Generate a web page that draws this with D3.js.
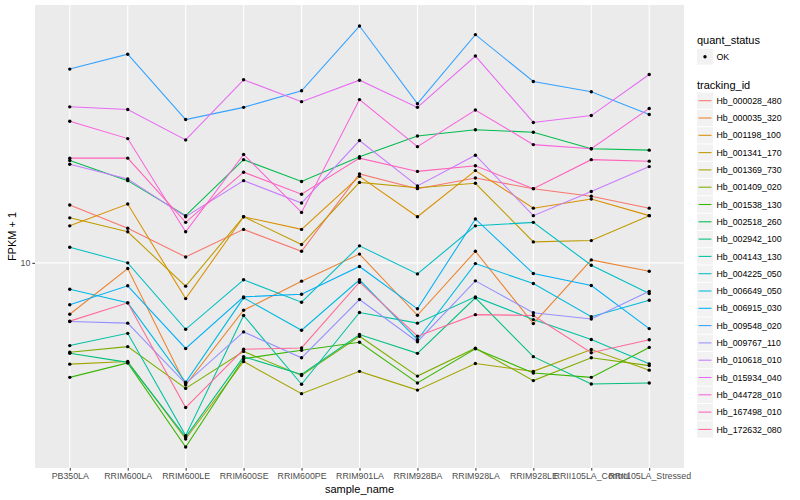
<!DOCTYPE html>
<html>
<head>
<meta charset="utf-8">
<script src="https://cdn.jsdelivr.net/npm/d3@7/dist/d3.min.js"></script>
<style>
  body { margin: 0; background: #fff; }
  text { font-family: "Liberation Sans", Arial, Helvetica, sans-serif; }
</style>
</head>
<body>
<div id="chart"></div>
<script>
// FPKM + 1 per sample, one line per tracking_id (log scale)

const samples = ["PB350LA", "RRIM600LA", "RRIM600LE", "RRIM600SE", "RRIM600PE",
  "RRIM901LA", "RRIM928BA", "RRIM928LA", "RRIM928LE", "RRII105LA_Control", "RRII105LA_Stressed"];

const trackingIds = ["Hb_000028_480", "Hb_000035_320", "Hb_001198_100", "Hb_001341_170",
  "Hb_001369_730", "Hb_001409_020", "Hb_001538_130", "Hb_002518_260", "Hb_002942_100",
  "Hb_004143_130", "Hb_004225_050", "Hb_006649_050", "Hb_006915_030", "Hb_009548_020",
  "Hb_009767_110", "Hb_010618_010", "Hb_015934_040", "Hb_044728_010", "Hb_167498_010",
  "Hb_172632_080"];

const hb000028_480 = [14.7, 12.6, 10.4, 12.5, 10.8, 18.1, 16.4, 17.6, 16.4, 15.6, 14.4];
const hb000035_320 = [7.10, 9.63, 4.43, 7.29, 8.85, 10.6, 7.05, 10.8, 6.67, 10.2, 9.46];
const hb001198_100 = [12.8, 14.8, 7.88, 13.6, 12.5, 17.8, 13.6, 18.5, 14.4, 15.3, 13.7];
const hb001341_170 = [13.5, 12.3, 8.56, 13.6, 11.3, 17.1, 16.5, 17.0, 11.5, 11.6, 13.7];
const hb001369_730 = [5.09, 5.18, 3.09, 5.18, 4.18, 4.85, 4.28, 5.11, 4.85, 5.61, 4.89];
const hb001409_020 = [5.51, 5.72, 4.33, 5.54, 4.72, 6.13, 4.70, 5.66, 4.56, 5.31, 5.04];
const hb001538_130 = [4.66, 5.13, 2.93, 5.28, 5.58, 5.89, 4.49, 5.64, 4.80, 4.66, 5.69];
const hb002518_260 = [19.8, 17.3, 13.7, 19.9, 17.2, 20.3, 23.3, 24.3, 23.9, 21.4, 21.2];
const hb002942_100 = [5.47, 5.15, 3.13, 5.35, 4.75, 6.20, 5.47, 7.92, 5.35, 4.46, 4.49];
const hb004143_130 = [5.76, 6.25, 3.16, 7.04, 4.45, 7.18, 6.69, 7.97, 6.85, 6.00, 5.10];
const hb004225_050 = [11.1, 10.0, 6.42, 8.93, 7.69, 11.2, 9.29, 12.8, 13.1, 9.84, 8.15];
const hb006649_050 = [8.39, 7.66, 4.51, 7.92, 6.38, 8.93, 5.99, 9.95, 8.71, 6.98, 7.79];
const hb006915_030 = [7.56, 8.58, 5.65, 7.97, 8.11, 9.76, 7.36, 13.4, 9.31, 8.60, 6.45];
const hb009548_020 = [36.4, 40.2, 26.0, 28.2, 31.5, 48.5, 28.9, 45.8, 33.5, 31.3, 26.9];
const hb009767_110 = [6.76, 6.69, 4.47, 6.31, 5.31, 7.83, 5.91, 8.87, 7.17, 6.88, 8.27];
const hb010618_010 = [19.3, 17.5, 13.6, 17.3, 14.9, 22.6, 16.7, 20.5, 13.7, 16.1, 19.0];
const hb015934_040 = [28.3, 27.8, 22.7, 33.9, 29.3, 33.8, 28.2, 39.7, 25.5, 26.7, 35.1];
const hb044728_010 = [25.7, 22.9, 12.3, 20.6, 14.0, 29.7, 21.7, 27.7, 22.0, 21.4, 28.0];
const hb167498_010 = [20.1, 20.1, 13.1, 18.3, 15.8, 20.1, 18.4, 19.1, 16.4, 19.9, 19.7];
const hb172632_080 = [6.78, 7.66, 3.81, 5.62, 5.67, 8.79, 6.13, 7.08, 7.04, 5.49, 5.99];

const seriesValues = [hb000028_480, hb000035_320, hb001198_100, hb001341_170, hb001369_730,
  hb001409_020, hb001538_130, hb002518_260, hb002942_100, hb004143_130, hb004225_050,
  hb006649_050, hb006915_030, hb009548_020, hb009767_110, hb010618_010, hb015934_040,
  hb044728_010, hb167498_010, hb172632_080];

const yTicks = [10];

// ggplot style hue palette (polar LUV, l = 65, c = 100)
function hueColor(h) {
  const L = 65, C = 100, hr = h * Math.PI / 180;
  const U = C * Math.cos(hr), V = C * Math.sin(hr);
  const Xn = 95.047, Yn = 100, Zn = 108.883;
  const den = Xn + 15 * Yn + 3 * Zn;
  const un = 4 * Xn / den, vn = 9 * Yn / den;
  const Y = Yn * Math.pow((L + 16) / 116, 3);
  const u = U / (13 * L) + un, v = V / (13 * L) + vn;
  const X = 9 * Y * u / (4 * v);
  const Z = -X / 3 - 5 * Y + 3 * Y / v;
  const gam = c => {
    c = c <= 0.0031308 ? 12.92 * c : 1.055 * Math.pow(c, 1 / 2.4) - 0.055;
    return Math.round(255 * Math.max(0, Math.min(1, c)));
  };
  const r = gam((3.240479 * X - 1.537150 * Y - 0.498535 * Z) / Yn);
  const g = gam((-0.969256 * X + 1.875992 * Y + 0.041556 * Z) / Yn);
  const b = gam((0.055648 * X - 0.204043 * Y + 1.057311 * Z) / Yn);
  return d3.rgb(r, g, b).formatHex();
}
const colors = trackingIds.map((_, i) => hueColor(15 + 360 * i / trackingIds.length));

const W = 800, H = 500;
const pl = 35, pr = 684, pt = 5, pb = 468;

const svg = d3.select("#chart").append("svg")
  .attr("width", W).attr("height", H);

svg.append("rect")
  .attr("x", pl).attr("y", pt)
  .attr("width", pr - pl).attr("height", pb - pt)
  .attr("fill", "#ebebeb");

const x = d3.scalePoint().domain(samples).range([pl, pr]).padding(0.6);

// log scale, expanded 5% each side like ggplot
const all = seriesValues.flat();
const lo = Math.log10(d3.min(all)), hi = Math.log10(d3.max(all));
const pad = (hi - lo) * 0.05;
const y = d3.scaleLog().domain([Math.pow(10, lo - pad), Math.pow(10, hi + pad)]).range([pb, pt]);

// grid
svg.append("g").selectAll("line")
  .data(samples).enter().append("line")
    .attr("x1", d => x(d)).attr("x2", d => x(d))
    .attr("y1", pt).attr("y2", pb)
    .attr("stroke", "#fff").attr("stroke-width", 1.1);

svg.append("g").selectAll("line")
  .data(yTicks).enter().append("line")
    .attr("x1", pl).attr("x2", pr)
    .attr("y1", d => y(d)).attr("y2", d => y(d))
    .attr("stroke", "#fff").attr("stroke-width", 1.1);

// lines
const line = d3.line().x((d, i) => x(samples[i])).y(d => y(d));
svg.append("g").selectAll("path")
  .data(seriesValues).enter().append("path")
    .attr("d", d => line(d))
    .attr("fill", "none")
    .attr("stroke", (d, i) => colors[i])
    .attr("stroke-width", 1.07);

// points
const pts = [];
seriesValues.forEach(s => s.forEach((v, i) => pts.push({ s: samples[i], v })));
svg.append("g").selectAll("circle")
  .data(pts).enter().append("circle")
    .attr("cx", d => x(d.s))
    .attr("cy", d => y(d.v))
    .attr("r", 1.7)
    .attr("fill", "#000");

// axes
const xAxis = svg.append("g")
  .attr("transform", `translate(0,${pb})`)
  .call(d3.axisBottom(x).tickSize(2.7).tickPadding(2));
const yAxis = svg.append("g")
  .attr("transform", `translate(${pl},0)`)
  .call(d3.axisLeft(y).tickValues(yTicks).tickFormat(d3.format("d")).tickSize(2.7).tickPadding(2));

[xAxis, yAxis].forEach(a => {
  a.select(".domain").remove();
  a.selectAll("line").attr("stroke", "#333").attr("stroke-width", 1);
  a.selectAll("text").attr("fill", "#4d4d4d").attr("font-size", "8.8px")
   .attr("font-family", "Liberation Sans, Arial, sans-serif");
});

svg.append("text")
  .attr("x", (pl + pr) / 2).attr("y", 492.5)
  .attr("text-anchor", "middle").attr("font-size", "11px")
  .text("sample_name");

svg.append("text")
  .attr("transform", `translate(16,${(pt + pb) / 2}) rotate(-90)`)
  .attr("text-anchor", "middle").attr("font-size", "11px")
  .text("FPKM + 1");

// legends
const lg = svg.append("g");
const kx = 697, kw = 16, step = 17.3;

lg.append("text").attr("x", kx).attr("y", 44).attr("font-size", "11px").text("quant_status");
lg.append("rect").attr("x", kx).attr("y", 56.7 - 8).attr("width", kw).attr("height", 16)
  .attr("fill", "#f2f2f2");
lg.append("circle").attr("cx", kx + kw / 2).attr("cy", 56.7).attr("r", 1.7).attr("fill", "#000");
lg.append("text").attr("x", 716.5).attr("y", 59.8).attr("font-size", "8.8px").text("OK");

lg.append("text").attr("x", kx).attr("y", 88.5).attr("font-size", "11px").text("tracking_id");

const items = lg.selectAll("g.item")
  .data(trackingIds).enter().append("g")
    .attr("transform", (d, i) => `translate(0,${100.7 + i * step})`);
items.append("rect")
  .attr("x", kx).attr("y", -8.15).attr("width", kw).attr("height", 16.3)
  .attr("fill", "#f2f2f2");
items.append("line")
  .attr("x1", kx + 1.5).attr("x2", kx + kw - 1.5)
  .attr("stroke", (d, i) => colors[i]).attr("stroke-width", 1.07);
items.append("text")
  .attr("x", 716.5).attr("y", 3.1)
  .attr("font-size", "8.8px")
  .text(d => d);
</script>
</body>
</html>
